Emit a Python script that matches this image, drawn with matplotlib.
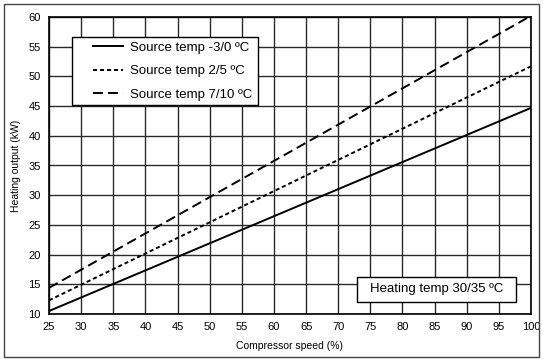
import matplotlib
matplotlib.use("Agg")
import matplotlib.pyplot as plt
from matplotlib.patches import Rectangle

plt.rcParams['font.family'] = ['Liberation Sans', 'DejaVu Sans']

# compressor speed (%) endpoints and heating output (kW)
speed = [25, 100]
out_m3_0 = [10.5, 44.7]
out_2_5 = [12.3, 51.7]
out_7_10 = [14.4, 60.2]
labels = ['Source temp -3/0 ºC', 'Source temp 2/5 ºC', 'Source temp 7/10 ºC']
xticks = list(range(25, 101, 5))
yticks = list(range(10, 61, 5))

fig = plt.figure(figsize=(5.43, 3.59), dpi=100)
ax = fig.add_axes([49 / 543, 1 - 314 / 359, (531 - 49) / 543, (314 - 17) / 359])

ax.plot(speed, out_m3_0, color='black', lw=1.4, ls='-', label=labels[0])
ax.plot(speed, out_2_5, color='black', lw=1.4, ls=(0, (2.1, 1.5)), label=labels[1])
ax.plot(speed, out_7_10, color='black', lw=1.4, ls=(0, (5.1, 2.6)), label=labels[2])

ax.set_xlim(25, 100)
ax.set_ylim(10, 60)
ax.set_xticks(xticks)
ax.set_yticks(yticks)
ax.grid(True, color='#2a2a2a', lw=1.0)
ax.set_axisbelow(True)
ax.tick_params(length=0, labelsize=8, pad=6)
for s in ax.spines.values():
    s.set_linewidth(1.2)
    s.set_color('black')

ax.set_xlabel('Compressor speed (%)', fontsize=7.5, labelpad=6)
ax.set_ylabel('Heating output (kW)', fontsize=7.5, labelpad=5)

# legend box drawn separately so the inner margins match
ax.add_patch(Rectangle((0.0477, 0.7037), 0.3859, 0.229, transform=ax.transAxes,
                       fc='white', ec='black', lw=1.0, zorder=3))
leg = ax.legend(loc='upper left', bbox_to_anchor=(0.0913, 0.918), fontsize=9.5,
                frameon=False, borderpad=0, borderaxespad=0,
                handlelength=2.27, handletextpad=0.5, labelspacing=0.86)
leg.set_zorder(4)

# note box
ax.add_patch(Rectangle((0.639, 0.0404), 0.330, 0.0842, transform=ax.transAxes,
                       fc='white', ec='black', lw=1.0, zorder=3))
ax.text(0.804, 0.0825, 'Heating temp 30/35 ºC', transform=ax.transAxes,
        ha='center', va='center', fontsize=9.5, zorder=5)

fig.patches.append(Rectangle((4 / 543, 2 / 359), 535 / 543, 353 / 359,
                             transform=fig.transFigure, fill=False,
                             ec='#444444', lw=1.0))

fig.savefig('out.png', dpi=100)
